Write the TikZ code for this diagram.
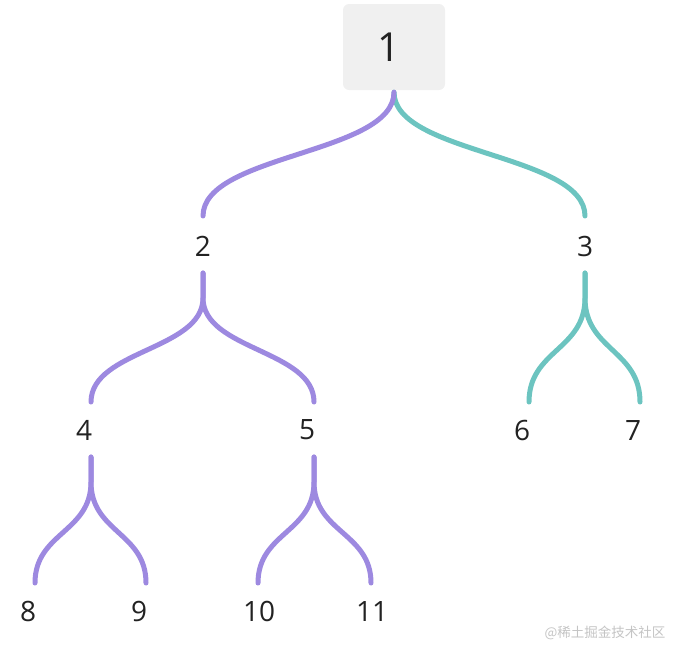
\documentclass[tikz,border=0pt]{standalone}
\usepackage{fontspec}
\setmainfont{Open Sans}
\newfontfamily\cjk{Noto Sans CJK SC}
\usepackage{tikz}
\usetikzlibrary{calc}
\definecolor{linkPurple}{HTML}{9D89E0}
\definecolor{linkTeal}{HTML}{6CC4C0}
\definecolor{boxGray}{HTML}{F0F0F0}
\definecolor{txtDark}{HTML}{222222}
\definecolor{markGray}{HTML}{C4C4C4}

% vertical link from a parent label down to a child label
\newcommand{\branch}[3]{%
  \draw[link, #1] let \p1=(#2), \p2=(#3) in
    (\x1,\y1-27pt) -- (\x1,\y1-52pt)
    .. controls (\x1,{(\y1+\y2-24pt)/2}) and (\x2,{(\y1+\y2-24pt)/2}) .. (\x2,\y2+28pt);
}

\begin{document}
\begin{tikzpicture}[
  x=1pt, y=1pt,
  nd/.style={inner sep=0pt, text=txtDark, font=\fontsize{28}{32}\selectfont},
  ndl/.style={nd, text width=30pt, align=left},
  rootbox/.style={fill=boxGray, rounded corners=6pt, minimum width=102pt, minimum height=86pt, inner sep=0pt, text width=34pt, align=left, text=txtDark, font=\fontsize{40}{46}\selectfont},
  link/.style={line width=5pt, line cap=round}
]
\useasboundingbox (0,0) rectangle (676,-646);

% root
\node[rootbox] (n1) at (394,-47) {1};

% level 1
\node[nd] (n2) at (203,-246) {2};
\node[nd] (n3) at (585,-246) {3};

% level 2
\node[ndl] (n4) at (91,-430) {4};
\node[ndl] (n5) at (314,-430) {5};
\node[ndl] (n6) at (529,-430) {6};
\node[ndl] (n7) at (640,-430) {7};

% level 3
\node[ndl] (n8) at (35,-611) {8};
\node[ndl] (n9) at (146,-611) {9};
\node[ndl] (n10) at (258,-611) {10};
\node[ndl] (n11) at (371,-611) {11};

% links out of the root
\draw[link, linkTeal] let \p1=(n1.south), \p2=(n3) in
  (\x1,\y1-2pt) .. controls (\x1,{(\y1+\y2+28pt)/2}) and (\x2,{(\y1+\y2+28pt)/2}) .. (\x2,\y2+30pt);
\draw[link, linkPurple] let \p1=(n1.south), \p2=(n2) in
  (\x1,\y1-2pt) .. controls (\x1,{(\y1+\y2+28pt)/2}) and (\x2,{(\y1+\y2+28pt)/2}) .. (\x2,\y2+30pt);

% lower links
\branch{linkPurple}{n2}{n4}
\branch{linkPurple}{n2}{n5}
\branch{linkTeal}{n3}{n6}
\branch{linkTeal}{n3}{n7}
\branch{linkPurple}{n4}{n8}
\branch{linkPurple}{n4}{n9}
\branch{linkPurple}{n5}{n10}
\branch{linkPurple}{n5}{n11}

\node[text=markGray, font=\cjk\fontsize{13.5}{16}\selectfont, anchor=east] (mark) at (669,-633) {@稀土掘金技术社区};
\end{tikzpicture}
\end{document}
